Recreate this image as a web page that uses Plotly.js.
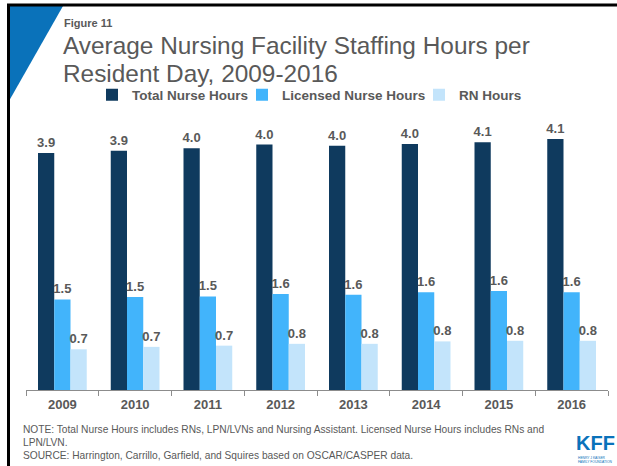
<!DOCTYPE html>
<html>
<head>
<meta charset="utf-8">
<script src="https://cdn.plot.ly/plotly-3.0.1.min.js"></script>
<style>html,body{margin:0;padding:0;background:#fff;}#chart{width:617px;height:466px;}</style>
</head>
<body>
<div id="chart"></div>
<script>
const years = ['2009', '2010', '2011', '2012', '2013', '2014', '2015', '2016'];
const totalNurseHours = [3.90, 3.94, 3.98, 4.04, 4.02, 4.05, 4.08, 4.13];
const licensedNurseHours = [1.49, 1.53, 1.54, 1.58, 1.57, 1.61, 1.63, 1.61];
const rnHours = [0.67, 0.71, 0.73, 0.76, 0.76, 0.80, 0.81, 0.81];
const seriesNames = ['Total Nurse Hours', 'Licensed Nurse Hours', 'RN Hours'];

const W = 617, H = 466;
const M = {l: 26, r: 9, t: 130, b: 76};
const pw = W - M.l - M.r, ph = H - M.t - M.b;
const px = x => (x - M.l) / pw;
const py = y => (H - M.b - y) / ph;

const grey = '#595959';
const FONT = 'Liberation Sans, Arial, sans-serif';
const labelFont = {family: FONT, size: 13, color: grey, weight: 'bold'};
const colors = ['#0f3a5e', '#42b4fb', '#c3e4fb'];
const vals = [totalNurseHours, licensedNurseHours, rnHours];
const legendIds = ['legend', 'legend2', 'legend3'];
const legendX = [92, 242, 419];

const traces = vals.map((v, i) => ({
  type: 'bar', x: years, y: v, name: seriesNames[i], legend: legendIds[i],
  marker: {color: colors[i], line: {width: 0}},
  texttemplate: '<b>%{y:.1f}</b>', textposition: 'outside',
  constraintext: 'none', cliponaxis: false,
  textfont: labelFont, hoverinfo: 'skip'
}));

const legendStyle = x => ({orientation: 'h', x: px(x), y: py(95), xanchor: 'left', yanchor: 'middle',
  font: {family: FONT, size: 13.5, color: grey, weight: 'bold'},
  itemwidth: 30, bgcolor: 'rgba(0,0,0,0)', borderwidth: 0});

const noteFont = {family: FONT, size: 10.2, color: grey};
const kffBlue = '#0a72ba';
const layout = {
  width: W, height: H, margin: M,
  paper_bgcolor: '#fff', plot_bgcolor: '#fff',
  barmode: 'group', bargap: 0.33, bargroupgap: 0,
  showlegend: true,
  legend: legendStyle(legendX[0]),
  legend2: legendStyle(legendX[1]),
  legend3: legendStyle(legendX[2]),
  xaxis: {type: 'category', tickson: 'boundaries', ticks: 'outside', ticklen: 5, tickcolor: '#8c8c8c',
    showline: true, linecolor: '#8c8c8c', linewidth: 1, showgrid: false, zeroline: false,
    ticklabelstandoff: 2,
    tickfont: {family: FONT, size: 13, color: grey, weight: 'bold'}},
  yaxis: {visible: false, range: [0, 4.28], showgrid: false, zeroline: false},
  shapes: [
    {type: 'path', xref: 'paper', yref: 'paper',
     path: `M ${px(9)} ${py(6)} L ${px(63)} ${py(6)} L ${px(9)} ${py(101)} Z`,
     fillcolor: kffBlue, line: {width: 0}},
    {type: 'line', xref: 'paper', yref: 'paper', x0: px(7), x1: px(617), y0: py(5), y1: py(5),
     line: {color: '#000', width: 3}},
    {type: 'line', xref: 'paper', yref: 'paper', x0: px(8.5), x1: px(8.5), y0: py(4), y1: py(466),
     line: {color: '#000', width: 3}}
  ],
  annotations: [
    {text: '<b>Figure 11</b>', x: px(62), y: py(23), xref: 'paper', yref: 'paper', xanchor: 'left', yanchor: 'middle',
     showarrow: false, font: {family: FONT, size: 11, color: grey}},
    {text: 'Average Nursing Facility Staffing Hours per', x: px(61), y: py(45), xref: 'paper', yref: 'paper',
     xanchor: 'left', yanchor: 'middle', showarrow: false,
     font: {family: FONT, size: 24.4, color: grey}},
    {text: 'Resident Day, 2009-2016', x: px(61), y: py(73.5), xref: 'paper', yref: 'paper',
     xanchor: 'left', yanchor: 'middle', showarrow: false,
     font: {family: FONT, size: 24.4, color: grey}},
    {text: 'NOTE: Total Nurse Hours includes RNs, LPN/LVNs and Nursing Assistant. Licensed Nurse Hours includes RNs and',
     x: px(21), y: py(429), xref: 'paper', yref: 'paper', xanchor: 'left', yanchor: 'middle', showarrow: false, font: noteFont},
    {text: 'LPN/LVN.', x: px(21), y: py(442), xref: 'paper', yref: 'paper', xanchor: 'left', yanchor: 'middle', showarrow: false, font: noteFont},
    {text: 'SOURCE: Harrington, Carrillo, Garfield, and Squires based on OSCAR/CASPER data.',
     x: px(21), y: py(455), xref: 'paper', yref: 'paper', xanchor: 'left', yanchor: 'middle', showarrow: false, font: noteFont},
    {text: '<b>KFF</b>', x: px(575), y: py(454.5), xref: 'paper', yref: 'paper', xanchor: 'left', yanchor: 'bottom',
     borderpad: 0, showarrow: false, font: {family: FONT, size: 20, color: kffBlue}},
    {text: 'HENRY J KAISER<br>FAMILY FOUNDATION', x: px(577), y: py(455), xref: 'paper', yref: 'paper',
     xanchor: 'left', yanchor: 'top', align: 'left', borderpad: 0,
     showarrow: false, font: {family: FONT, size: 3.3, color: kffBlue}}
  ]
};

Plotly.newPlot('chart', traces, layout, {displayModeBar: false, responsive: false});
</script>
</body>
</html>
